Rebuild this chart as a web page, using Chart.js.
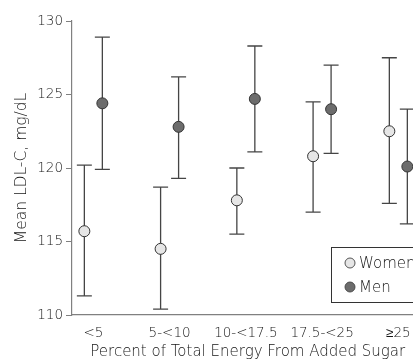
<!DOCTYPE html>
<html lang="en">
<head>
    <meta charset="UTF-8">
    <title>LDL-C by Added Sugar</title>
    <script src="https://cdnjs.cloudflare.com/ajax/libs/Chart.js/4.4.1/chart.umd.min.js"></script>
    <style>
        html, body {
            margin: 0;
            padding: 0;
            background: #fff;
            overflow: hidden;
        }
        .wrap {
            width: 413px;
            height: 362px;
            overflow: hidden;
        }
        .box {
            width: 430px;
            height: 362px;
        }
    </style>
</head>
<body>
    <div class="wrap">
        <div class="box"><canvas id="chart"></canvas></div>
    </div>

    <script>
        const categories = ['<5', '5-<10', '10-<17.5', '17.5-<25', '\u226525'];
        const womenMean = [115.7, 114.5, 117.8, 120.8, 122.5];
        const womenLow  = [111.3, 110.4, 115.5, 117.0, 117.6];
        const womenHigh = [120.2, 118.7, 120.0, 124.5, 127.5];
        const menMean = [124.4, 122.8, 124.7, 124.0, 120.1];
        const menLow  = [119.9, 119.3, 121.1, 121.0, 116.2];
        const menHigh = [128.9, 126.2, 128.3, 127.0, 124.0];
        const yTicks = [110, 115, 120, 125, 130];

        const textColor = '#151515';
        const axisColor = '#808080';
        const barColor = '#454545';
        const womenFill = '#e6e6e6';
        const menFill = '#6c6c6c';
        const fontFamily = '"DejaVu Sans", sans-serif';
        const fontWeight = 200;
        const shift = 0.118;

        function makePoints(means, lows, highs, dx) {
            return means.map((m, i) => ({ x: i + dx, y: m, lo: lows[i], hi: highs[i] }));
        }

        // draws the vertical bars with caps under the markers
        const errorBars = {
            id: 'errorBars',
            beforeDatasetsDraw(chart) {
                const ctx = chart.ctx;
                const xs = chart.scales.x, ys = chart.scales.y;
                ctx.save();
                ctx.strokeStyle = barColor;
                ctx.lineWidth = 1.3;
                chart.data.datasets.forEach(ds => {
                    ds.data.forEach(p => {
                        const x = xs.getPixelForValue(p.x);
                        const yLo = ys.getPixelForValue(p.lo);
                        const yHi = ys.getPixelForValue(p.hi);
                        ctx.beginPath();
                        ctx.moveTo(x, yLo); ctx.lineTo(x, yHi);
                        ctx.moveTo(x - 7.5, yLo); ctx.lineTo(x + 7.5, yLo);
                        ctx.moveTo(x - 7.5, yHi); ctx.lineTo(x + 7.5, yHi);
                        ctx.stroke();
                    });
                });
                ctx.restore();
            }
        };

        // boxed legend in the lower right corner
        const boxLegend = {
            id: 'boxLegend',
            afterDraw(chart) {
                const ctx = chart.ctx;
                ctx.save();
                ctx.fillStyle = '#fff';
                ctx.fillRect(331.5, 247.5, 110, 55);
                ctx.strokeStyle = '#333';
                ctx.lineWidth = 1;
                ctx.strokeRect(331.5, 247.5, 110, 55);
                const items = [['Women', womenFill, 263], ['Men', menFill, 287]];
                items.forEach(([label, fill, y]) => {
                    ctx.beginPath();
                    ctx.arc(350, y, 5, 0, Math.PI * 2);
                    ctx.fillStyle = fill;
                    ctx.fill();
                    ctx.strokeStyle = '#444';
                    ctx.lineWidth = 0.9;
                    ctx.stroke();
                    ctx.fillStyle = textColor;
                    ctx.font = fontWeight + ' 15px ' + fontFamily;
                    ctx.textBaseline = 'middle';
                    ctx.fillText(label, 359, y + 1);
                });
                ctx.restore();
            }
        };

        new Chart(document.getElementById('chart'), {
            type: 'scatter',
            data: {
                datasets: [
                    {
                        label: 'Women',
                        data: makePoints(womenMean, womenLow, womenHigh, -shift),
                        backgroundColor: womenFill,
                        borderColor: '#333',
                        borderWidth: 1,
                        pointRadius: 5.5
                    },
                    {
                        label: 'Men',
                        data: makePoints(menMean, menLow, menHigh, shift),
                        backgroundColor: menFill,
                        borderColor: '#333',
                        borderWidth: 1,
                        pointRadius: 5.5
                    }
                ]
            },
            options: {
                responsive: true,
                maintainAspectRatio: false,
                animation: false,
                layout: { padding: { top: 21, right: 6, left: 0, bottom: 0 } },
                plugins: {
                    legend: { display: false },
                    tooltip: { enabled: false }
                },
                scales: {
                    x: {
                        type: 'linear',
                        min: -0.28,
                        max: 4.33,
                        afterBuildTicks: scale => {
                            scale.ticks = categories.map((c, i) => ({ value: i }));
                        },
                        afterFit: scale => { scale.height = 47; },
                        grid: { display: false },
                        border: { display: true, color: axisColor, width: 1.2 },
                        ticks: {
                            padding: 2,
                            color: textColor,
                            font: { family: fontFamily, size: 13.5, weight: fontWeight },
                            callback: v => categories[v]
                        },
                        title: {
                            display: true,
                            text: 'Percent of Total Energy From Added Sugar',
                            color: textColor,
                            font: { family: fontFamily, size: 15, weight: fontWeight },
                            padding: { top: 0, bottom: 1 }
                        }
                    },
                    y: {
                        min: 110,
                        max: 130,
                        afterBuildTicks: scale => {
                            scale.ticks = yTicks.map(v => ({ value: v }));
                        },
                        afterFit: scale => { scale.width = 72; },
                        grid: {
                            display: true,
                            drawOnChartArea: false,
                            drawTicks: true,
                            tickLength: 6,
                            color: axisColor
                        },
                        border: { display: true, color: axisColor, width: 1.2 },
                        ticks: {
                            padding: 3,
                            color: textColor,
                            font: { family: fontFamily, size: 13.5, weight: fontWeight }
                        },
                        title: {
                            display: true,
                            text: 'Mean LDL-C, mg/dL',
                            color: textColor,
                            font: { family: fontFamily, size: 15.5, weight: fontWeight },
                            padding: { top: 13, bottom: 0 }
                        }
                    }
                }
            },
            plugins: [errorBars, boxLegend]
        });
    </script>
</body>
</html>
